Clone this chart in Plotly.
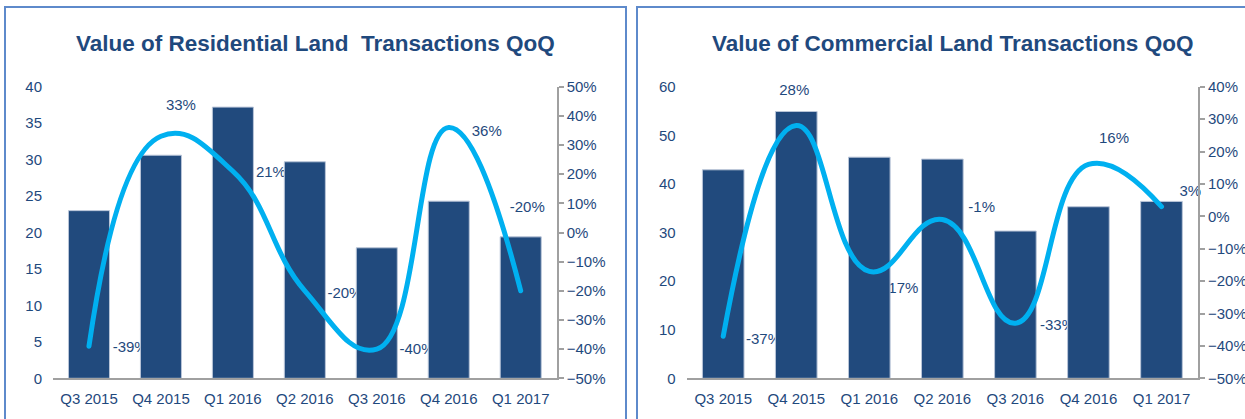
import plotly.graph_objects as go

# ---------------- data ----------------
categories = ["Q3 2015", "Q4 2015", "Q1 2016", "Q2 2016", "Q3 2016", "Q4 2016", "Q1 2017"]

res_title = "Value of Residential Land \u00a0Transactions QoQ"
res_values = [23.0, 30.6, 37.2, 29.7, 17.9, 24.3, 19.4]
res_qoq = [-39, 33, 21, -20, -40, 36, -20]

com_title = "Value of Commercial Land Transactions QoQ"
com_values = [42.9, 54.9, 45.5, 45.1, 30.3, 35.3, 36.4]
com_qoq = [-37, 28, -17, -1, -33, 16, 3]

# ---------------- style ----------------
W, H = 1245, 419
FONT = "Arial, 'Liberation Sans', sans-serif"
NAVY = "#1F497D"
BAR = "#214A7D"
LINE = "#00B0F0"
AXIS = "#A0A0A0"
FRAME = "#5E8ACB"
TICK_SIZE = 15
TITLE_SIZE = 22.5
PLOT_TOP, PLOT_BOTTOM = 86.7, 378.3

panels = [
    dict(title=res_title, values=res_values, qoq=res_qoq,
         x_px=(53, 556.7), bar_range=(0, 40), bar_dtick=5, pct_range=(-50, 50),
         title_x=315, frame=(5, 626),
         offsets=[(23.7, 2.5), (5, -30.5), (23, 2), (22.6, 3.5), (22.7, 1.5), (23, 4.5), (-11, -82.5)]),
    dict(title=com_title, values=com_values, qoq=com_qoq,
         x_px=(686.7, 1198), bar_range=(0, 60), bar_dtick=10, pct_range=(-50, 40),
         title_x=952, frame=(637, 1400),
         offsets=[(22.8, 4.5), (-17, -34.5), (14, 17.5), (26, -11.5), (24.6, 3.5), (10.6, -25.5), (18, -14.5)]),
]

fig = go.Figure()
layout = dict(
    width=W, height=H, margin=dict(l=0, r=0, t=0, b=0, pad=0, autoexpand=False),
    autosize=False,
    paper_bgcolor="white", plot_bgcolor="rgba(0,0,0,0)",
    showlegend=False, font=dict(family=FONT, color=NAVY, size=TICK_SIZE),
    shapes=[], annotations=[],
)
ydom = [1 - PLOT_BOTTOM / H, 1 - PLOT_TOP / H]
idx = list(range(len(categories)))

for k, p in enumerate(panels):
    xa = "x" if k == 0 else "x2"
    xkey = "xaxis" if k == 0 else "xaxis2"
    y_pct, y_bar, y_line = 3 * k + 1, 3 * k + 2, 3 * k + 3
    yname = lambda n: "y" if n == 1 else f"y{n}"
    ykey = lambda n: "yaxis" if n == 1 else f"yaxis{n}"

    x0, x1 = p["x_px"]
    cat_px = (x1 - x0) / len(categories)
    lo, hi = p["pct_range"]
    pct_px = (PLOT_BOTTOM - PLOT_TOP) / (hi - lo)

    lx = [i + dx / cat_px for i, (dx, dy) in zip(idx, p["offsets"])]
    ly = [v - dy / pct_px for v, (dx, dy) in zip(p["qoq"], p["offsets"])]

    # labels (drawn underneath the bars)
    fig.add_trace(go.Scatter(
        x=lx, y=ly, mode="text", text=[f"{v}%" for v in p["qoq"]],
        textposition="middle right", textfont=dict(size=TICK_SIZE, color=NAVY, family=FONT),
        xaxis=xa, yaxis=yname(y_pct), hoverinfo="skip", cliponaxis=False))
    # bars
    fig.add_trace(go.Bar(
        x=idx, y=p["values"], width=0.57,
        marker=dict(color=BAR, line=dict(color="#B9C5D8", width=1)),
        xaxis=xa, yaxis=yname(y_bar), hoverinfo="skip"))
    # QoQ line
    fig.add_trace(go.Scatter(
        x=idx, y=p["qoq"], mode="lines",
        line=dict(color=LINE, width=5, shape="spline", smoothing=1.3),
        xaxis=xa, yaxis=yname(y_line), hoverinfo="skip", cliponaxis=False))

    layout[xkey] = dict(
        domain=[x0 / W, x1 / W], anchor=yname(y_pct), range=[-0.5, len(categories) - 0.5],
        tickvals=idx, ticktext=categories, showline=True, linecolor=AXIS, linewidth=2,
        ticks="", showgrid=False, zeroline=False, ticklabelstandoff=6, automargin=False,
        tickfont=dict(size=TICK_SIZE, color=NAVY, family=FONT), fixedrange=True)
    layout[ykey(y_pct)] = dict(
        domain=ydom, anchor=xa, side="right", range=[lo, hi], dtick=10, ticksuffix="%",
        showline=True, linecolor=AXIS, linewidth=2, ticks="outside", ticklen=5,
        tickwidth=1.5, tickcolor=AXIS, showgrid=False, zeroline=False, automargin=False,
        tickfont=dict(size=TICK_SIZE, color=NAVY, family=FONT), fixedrange=True)
    layout[ykey(y_bar)] = dict(
        overlaying=yname(y_pct), anchor=xa, side="left", range=list(p["bar_range"]),
        dtick=p["bar_dtick"], showline=False, ticks="", showgrid=False, zeroline=False,
        ticklabelstandoff=10, automargin=False,
        tickfont=dict(size=TICK_SIZE, color=NAVY, family=FONT), fixedrange=True)
    layout[ykey(y_line)] = dict(
        overlaying=yname(y_pct), anchor=xa, range=[lo, hi], visible=False,
        automargin=False, fixedrange=True)

    f0, f1 = p["frame"]
    layout["shapes"].append(dict(
        type="rect", xref="paper", yref="paper", x0=f0 / W, x1=f1 / W,
        y0=-0.2, y1=1 - 7 / H, line=dict(color=FRAME, width=2), fillcolor="rgba(0,0,0,0)"))
    layout["annotations"].append(dict(
        text=f"<b>{p['title']}</b>", xref="paper", yref="paper",
        x=p["title_x"] / W, y=1 - 44 / H, xanchor="center", yanchor="middle",
        showarrow=False, font=dict(size=TITLE_SIZE, color=NAVY, family=FONT)))

fig.update_layout(**layout)
fig.write_html(
    "out.html",
    config={"displayModeBar": False},
    post_script=(
        "document.body.style.margin='0';document.body.style.overflow='hidden';"
        "document.querySelectorAll('.scatterlayer .js-line').forEach(function(p){"
        "p.style.strokeLinecap='round';});"
    ),
)
